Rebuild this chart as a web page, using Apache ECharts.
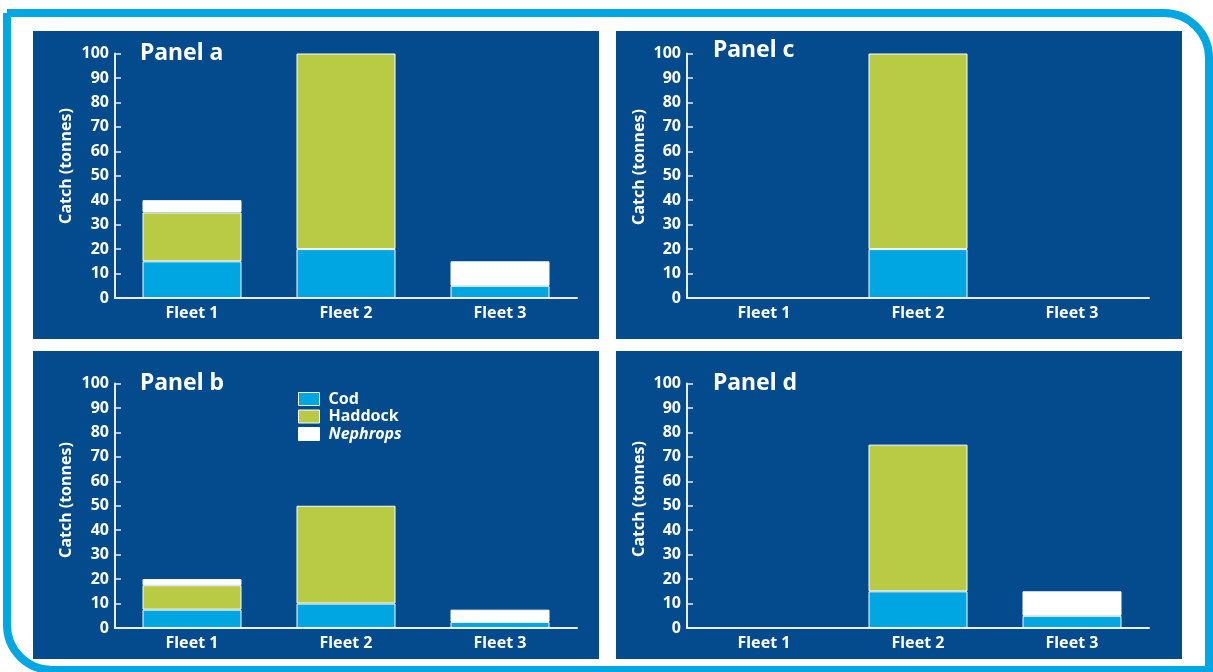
<!DOCTYPE html>
<html>
<head>
<meta charset="utf-8">
<script src="https://cdn.jsdelivr.net/npm/echarts@6/dist/echarts.min.js"></script>
<style>
html,body{margin:0;padding:0;background:#fff;}
#main{width:1213px;height:672px;}
</style>
</head>
<body>
<div id="main"></div>
<script>
// ---- Data ----
const categories = ['Fleet 1', 'Fleet 2', 'Fleet 3'];
const speciesNames = ['Cod', 'Haddock', 'Nephrops'];
const panelNames = ['Panel a', 'Panel b', 'Panel c', 'Panel d'];
const yAxisTitle = 'Catch (tonnes)';
const yTicks = [0, 10, 20, 30, 40, 50, 60, 70, 80, 90, 100];

// catch (tonnes) per fleet, per panel
const panelA_cod      = [15, 20, 5];
const panelA_haddock  = [20, 80, 0];
const panelA_nephrops = [5, 0, 10];

const panelB_cod      = [7.5, 10, 2.5];
const panelB_haddock  = [10, 40, 0];
const panelB_nephrops = [2.5, 0, 5];

const panelC_cod      = [0, 20, 0];
const panelC_haddock  = [0, 80, 0];
const panelC_nephrops = [0, 0, 0];

const panelD_cod      = [0, 15, 5];
const panelD_haddock  = [0, 60, 0];
const panelD_nephrops = [0, 0, 10];

// ---- Layout / style ----
const COLORS = ['#00a6e2', '#b9ca45', '#ffffff'];
const PANEL_BG = '#034b8c';
const AXIS_COLOR = '#e8eef4';
const FONT = '"Noto Sans", "Open Sans", sans-serif';

const panels = [
  { name: panelNames[0], data: [panelA_cod, panelA_haddock, panelA_nephrops], box: [33, 31, 566, 308], grid: { left: 115, top: 53.5 }, title: { left: 140, top: 42 }, yName: [66, 166] },
  { name: panelNames[1], data: [panelB_cod, panelB_haddock, panelB_nephrops], box: [33, 351, 566, 308], grid: { left: 115, top: 383.5 }, title: { left: 140, top: 372 }, yName: [66, 500] },
  { name: panelNames[2], data: [panelC_cod, panelC_haddock, panelC_nephrops], box: [616, 31, 566, 308], grid: { left: 687, top: 53.5 }, title: { left: 713, top: 39 }, yName: [639, 167] },
  { name: panelNames[3], data: [panelD_cod, panelD_haddock, panelD_nephrops], box: [616, 351, 566, 308], grid: { left: 687, top: 383.5 }, title: { left: 713, top: 372 }, yName: [639, 499] }
];

const GRID_W = 462, GRID_H = 244.5;

const grids = [], xAxes = [], yAxes = [], series = [], titles = [], graphics = [];

// outer frame
graphics.push({
  type: 'rect', z: -20,
  shape: { x: 7, y: 13, width: 1202, height: 657, r: [0, 45, 0, 45] },
  style: { fill: '#ffffff', stroke: '#00a7e2', lineWidth: 8 }
});

panels.forEach((p, i) => {
  graphics.push({
    type: 'rect', z: -10,
    shape: { x: p.box[0], y: p.box[1], width: p.box[2], height: p.box[3] },
    style: { fill: PANEL_BG }
  });
  graphics.push({
    type: 'text', z: 5,
    x: p.yName[0], y: p.yName[1], rotation: Math.PI / 2,
    style: {
      text: yAxisTitle, fill: '#ffffff', font: 'bold 16px ' + FONT,
      textAlign: 'center', textVerticalAlign: 'middle'
    }
  });
  grids.push({ left: p.grid.left, top: p.grid.top, width: GRID_W, height: GRID_H });
  xAxes.push({
    type: 'category', gridIndex: i, data: categories,
    axisLine: { lineStyle: { color: AXIS_COLOR, width: 2 } },
    axisTick: { inside: true, length: 6, lineStyle: { color: AXIS_COLOR, width: 1.5 } },
    axisLabel: { color: '#ffffff', fontFamily: FONT, fontWeight: 'bold', fontSize: 16, margin: 7 }
  });
  yAxes.push({
    type: 'value', gridIndex: i, min: yTicks[0], max: yTicks[yTicks.length - 1], interval: yTicks[1] - yTicks[0],
    axisLine: { show: true, lineStyle: { color: AXIS_COLOR, width: 2 } },
    axisTick: { show: true, inside: true, length: 6, lineStyle: { color: AXIS_COLOR, width: 1.5 } },
    splitLine: { show: false },
    axisLabel: { color: '#ffffff', fontFamily: FONT, fontWeight: 'bold', fontSize: 16, margin: 6 }
  });
  titles.push({
    text: p.name, left: p.title.left, top: p.title.top, padding: 0,
    textStyle: { color: '#ffffff', fontFamily: FONT, fontWeight: 'bold', fontSize: 23 }
  });
  speciesNames.forEach((s, k) => {
    series.push({
      name: s, type: 'bar', stack: 'p' + i, xAxisIndex: i, yAxisIndex: i,
      barWidth: 99,
      data: p.data[k].map(v => (v === 0 ? null : v)),
      itemStyle: { color: COLORS[k], borderColor: '#ffffff', borderWidth: 1 },
      emphasis: { disabled: true }
    });
  });
});

const chart = echarts.init(document.getElementById('main'), null, { renderer: 'canvas' });
chart.setOption({
  animation: false,
  color: COLORS,
  title: titles,
  graphic: graphics,
  grid: grids,
  xAxis: xAxes,
  yAxis: yAxes,
  legend: {
    data: speciesNames,
    orient: 'vertical', left: 298, top: 391, padding: 0,
    itemWidth: 21, itemHeight: 13, itemGap: 1.5,
    icon: 'rect',
    itemStyle: { borderColor: '#ffffff', borderWidth: 1 },
    selectedMode: false,
    formatter: n => (n === 'Nephrops' ? '{i|' + n + '}' : n),
    textStyle: {
      color: '#ffffff', fontFamily: FONT, fontWeight: 'bold', fontSize: 16, padding: [0, 0, 0, 4],
      rich: { i: { color: '#ffffff', fontFamily: FONT, fontWeight: 'bold', fontStyle: 'italic', fontSize: 16 } }
    }
  },
  series: series
});
</script>
</body>
</html>
